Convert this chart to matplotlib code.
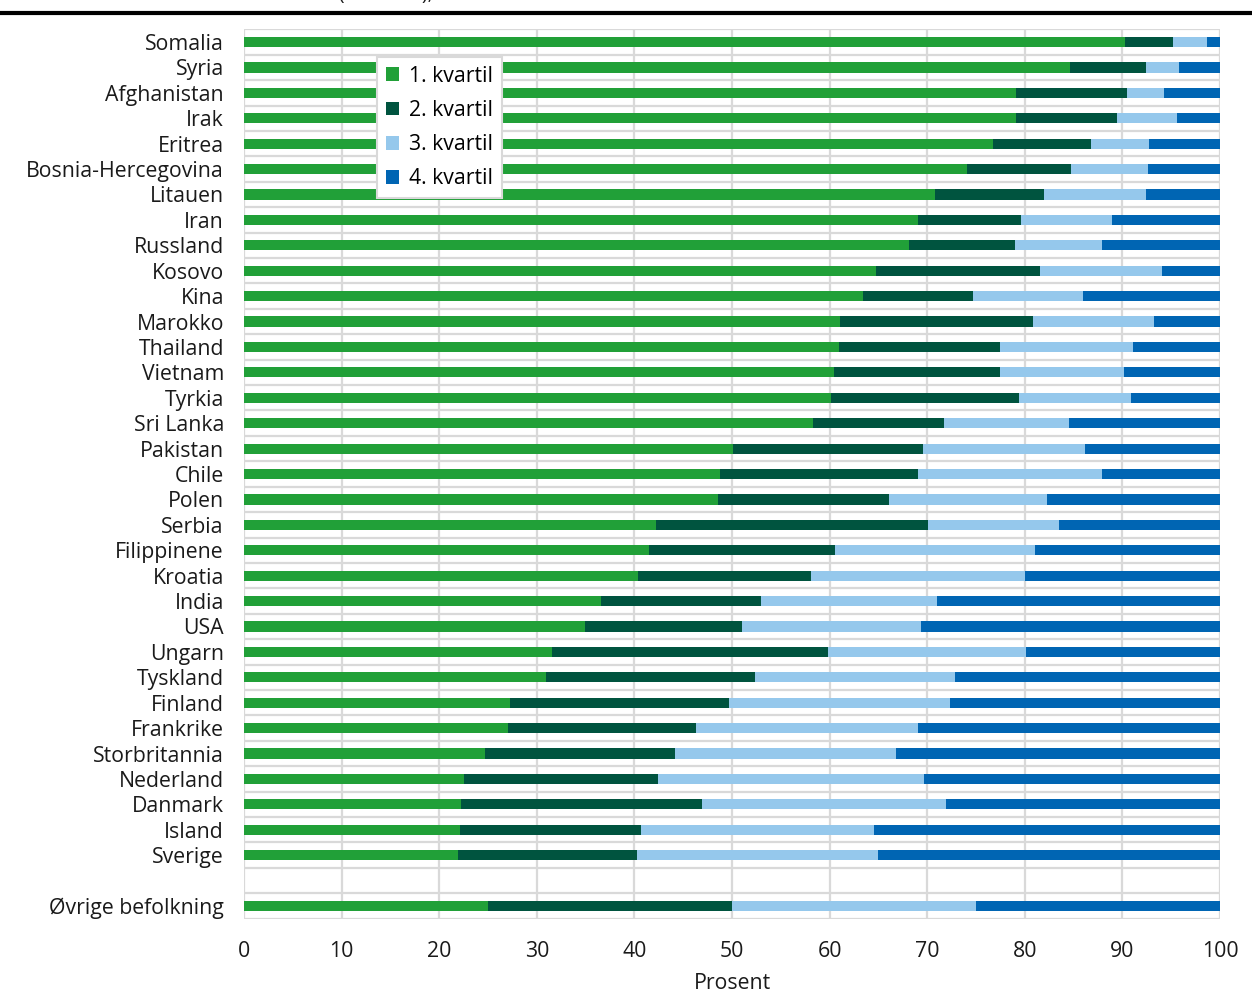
import numpy as np
import matplotlib
matplotlib.use("Agg")
import matplotlib.pyplot as plt
from matplotlib.lines import Line2D

plt.rcParams['font.family'] = ['Open Sans', 'DejaVu Sans']

# ---- data (prosent per inntektskvartil) ----
countries = [
    "Somalia", "Syria", "Afghanistan", "Irak", "Eritrea", "Bosnia-Hercegovina",
    "Litauen", "Iran", "Russland", "Kosovo", "Kina", "Marokko", "Thailand",
    "Vietnam", "Tyrkia", "Sri Lanka", "Pakistan", "Chile", "Polen", "Serbia",
    "Filippinene", "Kroatia", "India", "USA", "Ungarn", "Tyskland", "Finland",
    "Frankrike", "Storbritannia", "Nederland", "Danmark", "Island", "Sverige",
]
q1 = [90.3, 84.6, 79.1, 79.1, 76.7, 74.1, 70.8, 69.1, 68.1, 64.7, 63.4, 61.1, 61.0,
      60.4, 60.1, 58.3, 50.1, 48.8, 48.6, 42.2, 41.5, 40.4, 36.6, 34.9, 31.6, 30.9,
      27.2, 27.0, 24.7, 22.5, 22.2, 22.1, 21.9]
q2 = [4.9, 7.8, 11.4, 10.3, 10.1, 10.6, 11.2, 10.5, 10.9, 16.9, 11.3, 19.7, 16.5,
      17.1, 19.3, 13.4, 19.5, 20.3, 17.5, 27.9, 19.0, 17.7, 16.4, 16.1, 28.2, 21.5,
      22.5, 19.3, 19.5, 19.9, 24.7, 18.6, 18.4]
q3 = [3.5, 3.4, 3.8, 6.2, 5.9, 7.9, 10.4, 9.3, 8.9, 12.4, 11.3, 12.4, 13.6,
      12.7, 11.5, 12.8, 16.6, 18.8, 16.2, 13.4, 20.5, 21.9, 18.0, 18.4, 20.3, 20.4,
      22.6, 22.8, 22.6, 27.3, 25.0, 23.8, 24.7]
q4 = [1.3, 4.2, 5.7, 4.4, 7.3, 7.4, 7.6, 11.1, 12.1, 6.0, 14.0, 6.8, 8.9,
      9.8, 9.1, 15.5, 13.8, 12.1, 17.7, 16.5, 19.0, 20.0, 29.0, 30.6, 19.9, 27.2,
      27.7, 30.9, 33.2, 30.3, 28.1, 35.5, 35.0]

rest_label = "Øvrige befolkning"
rest_values = [25.0, 25.0, 25.0, 25.0]

series_names = ["1. kvartil", "2. kvartil", "3. kvartil", "4. kvartil"]
colors = ["#21a038", "#00543f", "#95c8ec", "#0065b3"]

# ---- assemble rows: countries, one blank row, then the rest ----
n = len(countries)
labels = countries + ["", rest_label]
y_countries = np.arange(n)
y_rest = n + 1
data = [np.array(q1), np.array(q2), np.array(q3), np.array(q4)]

fig = plt.figure(figsize=(12.52, 9.97), dpi=100)
ax = fig.add_axes([0.1949, 0.0785, 0.7796, 0.8921])

left = np.zeros(n)
left_rest = 0.0
bar_h = 0.40
for i in range(4):
    ax.barh(y_countries, data[i], left=left, height=bar_h, color=colors[i],
            label=series_names[i], zorder=3)
    ax.barh([y_rest], [rest_values[i]], left=[left_rest], height=bar_h,
            color=colors[i], zorder=3)
    left = left + data[i]
    left_rest += rest_values[i]

ax.set_xlim(0, 100)
ax.set_ylim(len(labels) - 0.5, -0.5)
ax.set_xticks(np.arange(0, 101, 10))
ax.set_yticks(np.arange(len(labels)))
ax.set_yticklabels(labels)
ax.set_yticks(np.arange(-0.5, len(labels)), minor=True)

ax.grid(axis='x', which='major', color='#d9d9d9', linewidth=1.6, zorder=0)
ax.grid(axis='y', which='minor', color='#d9d9d9', linewidth=1.6, zorder=0)
ax.grid(axis='y', which='major', visible=False)
for s in ax.spines.values():
    s.set_visible(False)
ax.tick_params(axis='both', which='both', length=0, labelsize=15.3, colors='#1a1a1a')
ax.tick_params(axis='y', pad=14.5)
ax.tick_params(axis='x', pad=16)
ax.set_xlabel("Prosent", fontsize=15.3, color='#1a1a1a', labelpad=8)

leg = ax.legend(loc='upper left', bbox_to_anchor=(0.136, 0.969), borderaxespad=0,
                fontsize=15.3, frameon=True, fancybox=False, framealpha=1,
                edgecolor='#d9d9d9', handlelength=0.62, handleheight=0.62,
                handletextpad=0.5, labelspacing=0.62, borderpad=0.42)
leg.get_frame().set_linewidth(1.5)

# header rule and cut-off title
fig.add_artist(Line2D([0, 1], [1 - 13.5 / 997, 1 - 13.5 / 997], color='black',
                      linewidth=3.0, transform=fig.transFigure))
fig.text(160 / 1252, 1 - 0.3 / 997, "Inntekt etter kvartil (EU-skala), andel",
         fontsize=14, va='baseline', ha='left', color='#1a1a1a')

plt.savefig("out.png", dpi=100)
